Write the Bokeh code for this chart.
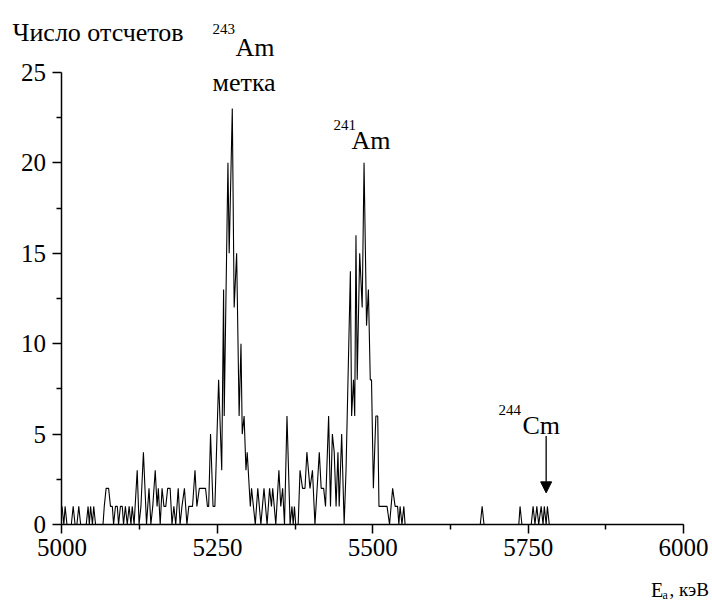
from bokeh.plotting import figure
from bokeh.models import Range1d, FixedTicker, Label, Arrow, NormalHead, LinearAxis
from bokeh.embed import file_html
from bokeh.resources import INLINE

# Spectrum: energy (keV) and counts
energy = [5000, 5003, 5005, 5008, 5015, 5018, 5021, 5024, 5027, 5030, 5039, 5042, 5044, 5046, 5049,
          5051, 5054, 5063, 5066, 5068, 5071, 5075, 5078, 5081, 5083, 5086, 5089, 5091, 5094, 5097,
          5099, 5102, 5105, 5108, 5111, 5113, 5116, 5121, 5124, 5127, 5131, 5136, 5140, 5143, 5146,
          5150, 5153, 5155, 5158, 5161, 5164, 5167, 5170, 5174, 5177, 5180, 5183, 5187, 5190, 5193,
          5197, 5201, 5204, 5207, 5210, 5214, 5217, 5221, 5224, 5228, 5231, 5234, 5236, 5239, 5243,
          5246, 5252, 5257, 5260, 5261, 5267, 5269, 5274, 5277, 5281, 5285, 5288, 5290, 5293, 5296,
          5298, 5303, 5305, 5311, 5315, 5320, 5325, 5330, 5334, 5337, 5339, 5344, 5349, 5352, 5355,
          5358, 5362, 5367, 5370, 5372, 5374, 5376, 5380, 5383, 5387, 5391, 5394, 5399, 5403, 5407,
          5414, 5417, 5421, 5424, 5429, 5432, 5435, 5438, 5441, 5444, 5446, 5450, 5454, 5457, 5464,
          5466, 5469, 5471, 5473, 5475, 5479, 5483, 5486, 5490, 5493, 5496, 5498, 5501, 5505, 5508,
          5510, 5515, 5523, 5527, 5532, 5536, 5540, 5542, 5544, 5547, 5550, 5552, 5673, 5676, 5679,
          5735, 5737, 5740, 5755, 5758, 5761, 5764, 5767, 5771, 5774, 5776, 5779, 5781, 5784, 6000]
counts = [1, 0, 1, 0, 0, 1, 0, 0, 1, 0, 0, 1, 0, 1, 0,
          1, 0, 0, 0, 1, 2, 2, 1, 1, 0, 1, 1, 0, 1, 1,
          0, 1, 0, 1, 0, 1, 0, 3, 0, 1, 4, 0, 2, 0, 1,
          3, 1, 2, 0, 2, 1, 1, 2, 2, 0, 1, 0, 2, 0, 1,
          2, 0, 1, 1, 1, 3, 1, 2, 2, 2, 2, 1, 1, 5, 1,
          1, 8, 3, 13, 6, 20, 15, 23, 12, 15, 6, 10, 5, 6, 3,
          4, 1, 2, 0, 2, 0, 2, 0, 2, 1, 2, 0, 3, 1, 2,
          0, 6, 0, 1, 0, 1, 0, 0, 3, 2, 2, 4, 2, 3, 0,
          4, 2, 2, 1, 6, 1, 5, 4, 1, 4, 1, 5, 0, 3, 14,
          6, 8, 6, 16, 8, 15, 12, 20, 11, 13, 8, 8, 2, 6, 6,
          1, 1, 1, 0, 2, 1, 1, 0, 1, 0, 1, 0, 0, 1, 0,
          0, 1, 0, 0, 1, 0, 1, 0, 1, 0, 1, 0, 1, 0, 0]

x_ticks = [5000, 5250, 5500, 5750, 6000]
x_minor = [5125, 5375, 5625, 5875]
y_ticks = [0, 5, 10, 15, 20, 25]
y_minor = [2.5, 7.5, 12.5, 17.5, 22.5]
x_bounds = (5000, 6000)
y_bounds = (0, 25)

FONT = "Liberation Serif"

# frame covers the whole canvas; axes are pinned at x=5000 / y=0
p = figure(width=712, height=605, x_range=Range1d(4901.05, 6046.65), y_range=Range1d(-4.48, 28.98),
           output_backend="svg", toolbar_location=None, x_axis_type=None, y_axis_type=None,
           min_border=0, min_border_left=0, min_border_right=0, min_border_top=0,
           min_border_bottom=0)
p.outline_line_color = None
p.background_fill_color = "white"
p.border_fill_color = "white"

p.line(energy, counts, line_color="black", line_width=1.1)

xaxis = LinearAxis(fixed_location=y_bounds[0], bounds=x_bounds,
                   ticker=FixedTicker(ticks=x_ticks, minor_ticks=x_minor))
yaxis = LinearAxis(fixed_location=x_bounds[0], bounds=y_bounds,
                   ticker=FixedTicker(ticks=y_ticks, minor_ticks=y_minor))
p.add_layout(xaxis, "below")
p.add_layout(yaxis, "left")

for ax in (xaxis, yaxis):
    ax.axis_line_width = 1.5
    ax.axis_line_color = "black"
    ax.major_tick_line_width = 1.5
    ax.minor_tick_line_width = 1.5
    ax.major_tick_line_color = "black"
    ax.minor_tick_line_color = "black"
    ax.major_tick_in = 0
    ax.major_tick_out = 9
    ax.minor_tick_in = 0
    ax.minor_tick_out = 5
    ax.major_label_text_font = FONT
    ax.major_label_text_font_size = "25px"
    ax.major_label_text_color = "black"
    ax.major_label_standoff = 6
yaxis.major_label_standoff = 7


def lab(x, y, text, size):
    p.add_layout(Label(x=x, y=y, text=text, text_font=FONT, text_font_size=size,
                       text_color="black", text_baseline="alphabetic"))

# y-axis title (top-left)
lab(4920.4, 27.21, "Число отсчетов", "26px")
# 243Am label
lab(5242.2, 27.38, "243", "15px")
lab(5279.2, 26.38, "Am", "26px")
lab(5242.2, 24.45, "метка", "26px")
# 241Am label
lab(5436.8, 22.12, "241", "15px")
lab(5465.8, 21.24, "Am", "26px")
# 244Cm label
lab(5702.3, 6.31, "244", "15px")
lab(5740.9, 5.48, "Cm", "26px")
# x-axis title
lab(5947.5, -3.6, "E", "20px")
lab(5966.3, -3.9, "а", "12px")
lab(5977.5, -3.6, ", кэВ", "19px")

p.add_layout(Arrow(x_start=5779, y_start=4.9, x_end=5779, y_end=1.75,
                   line_color="black", line_width=1.3,
                   end=NormalHead(size=11, fill_color="black", line_color="black")))

open("out.html", "w").write(file_html(p, INLINE))
